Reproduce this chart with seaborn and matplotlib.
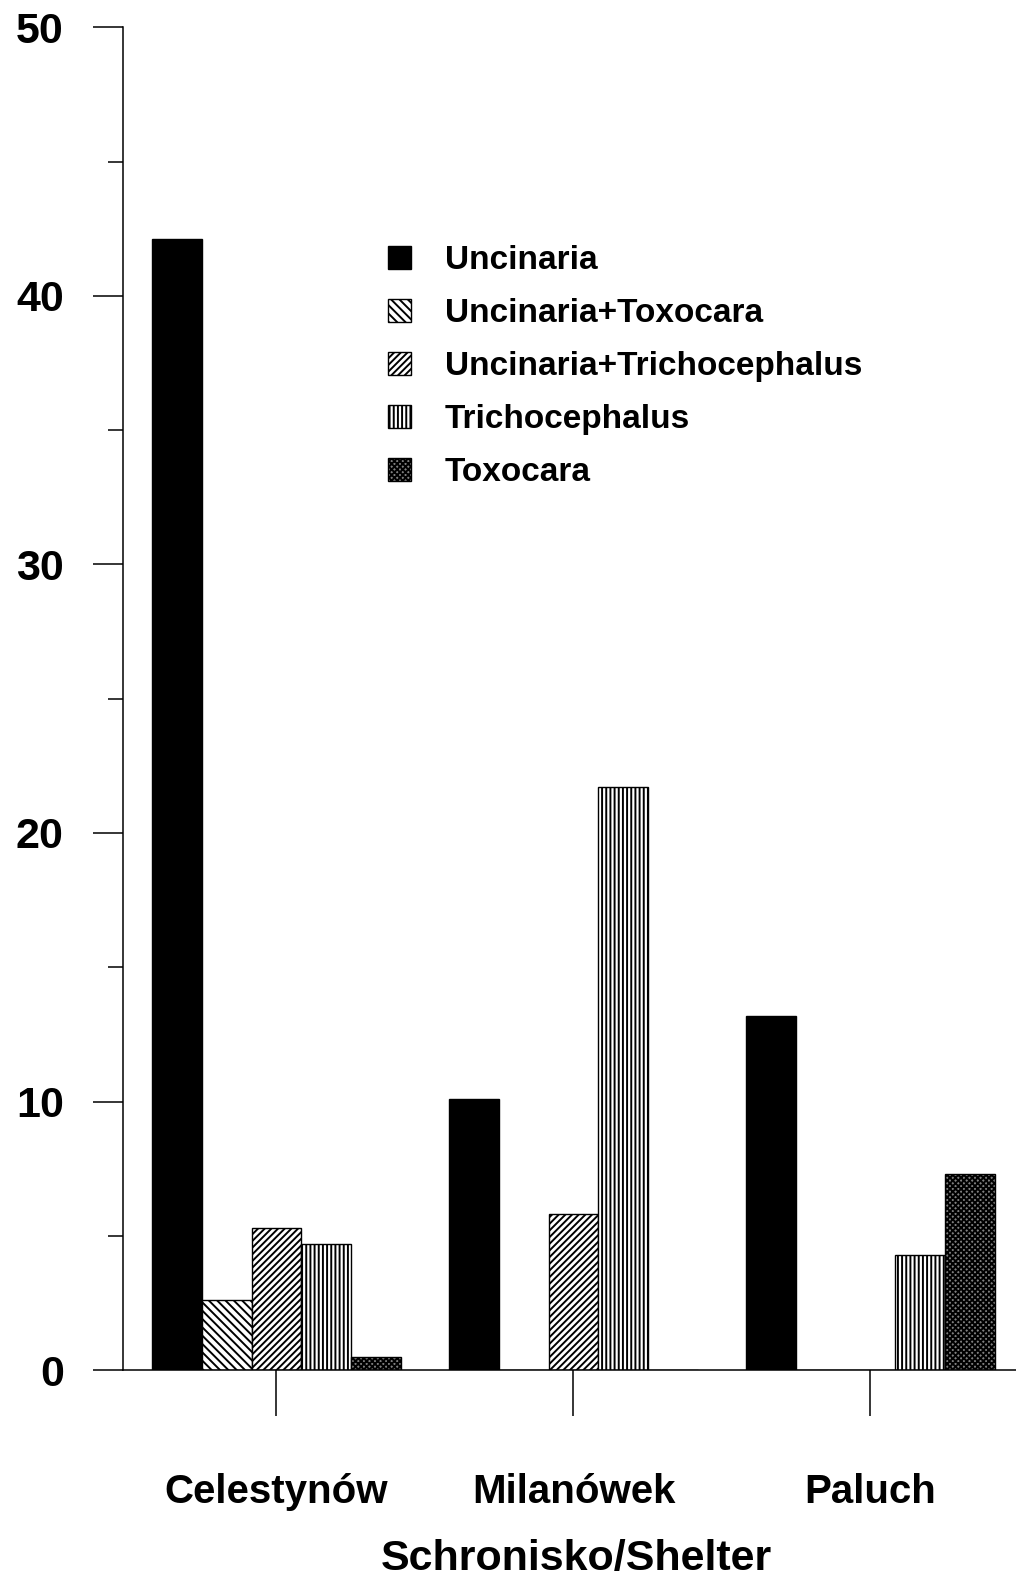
import seaborn as sns
import matplotlib.pyplot as plt
import matplotlib.patches as mpatches
import pandas as pd
from matplotlib.ticker import MultipleLocator

# values
shelters = ['Celestynów', 'Milanówek', 'Paluch']
parasites = ['Uncinaria', 'Uncinaria+Toxocara', 'Uncinaria+Trichocephalus',
             'Trichocephalus', 'Toxocara']
uncinaria = [42.1, 10.1, 13.2]
unc_toxo = [2.6, 0.0, 0.0]
unc_trich = [5.3, 5.8, 0.0]
trich = [4.7, 21.7, 4.3]
toxo = [0.5, 0.0, 7.3]

series = [uncinaria, unc_toxo, unc_trich, trich, toxo]
df = pd.DataFrame({
    'shelter': shelters * len(parasites),
    'parasite': [p for p in parasites for _ in shelters],
    'value': [v for s in series for v in s],
})

hatches = ['', '\\\\\\\\', '/////', '||||', 'xxxxxx']
faces = ['black', 'white', 'white', 'white', '#808080']

sns.set_style('white')
plt.rcParams['font.family'] = ['Liberation Sans', 'DejaVu Sans']
plt.rcParams['font.weight'] = 'bold'
plt.rcParams['text.color'] = 'black'
plt.rcParams['xtick.color'] = 'black'
plt.rcParams['ytick.color'] = 'black'
plt.rcParams['hatch.linewidth'] = 1.4

fig = plt.figure(figsize=(10.16, 15.83), dpi=100)
ax = fig.add_axes([0.121, 0.1345, 0.879, 0.8483])

sns.barplot(data=df, x='shelter', y='value', hue='parasite', order=shelters,
            hue_order=parasites, width=0.84, legend=False, ax=ax,
            edgecolor='black', linewidth=1.0, saturation=1)

for cont, h, fc in zip(ax.containers, hatches, faces):
    for bar in cont:
        bar.set_facecolor(fc)
        bar.set_hatch(h)
        bar.set_edgecolor('black')

ax.set_xlim(-0.517, 2.49)
ax.set_ylim(0, 50)
ax.yaxis.set_major_locator(MultipleLocator(10))
ax.yaxis.set_minor_locator(MultipleLocator(5))
ax.tick_params(axis='y', which='major', length=21.6, width=1.1, pad=21,
               labelsize=31, direction='out', left=True)
ax.tick_params(axis='y', which='minor', length=10.5, width=1.1, direction='out', left=True)
ax.tick_params(axis='x', which='major', length=33, width=1.1, pad=41,
               labelsize=29, direction='out', bottom=True)
for lab in ax.get_yticklabels() + ax.get_xticklabels():
    lab.set_fontweight('bold')
    lab.set_color('black')

for s in ['top', 'right']:
    ax.spines[s].set_visible(False)
for s in ['left', 'bottom']:
    ax.spines[s].set_linewidth(1.1)
    ax.spines[s].set_color('black')

ax.set_xlabel('Schronisko/Shelter', fontsize=31, fontweight='bold', color='black')
ax.xaxis.set_label_coords(0.508, -0.1255)
ax.set_ylabel('')

handles = [mpatches.Patch(facecolor=fc, edgecolor='black', hatch=h, label=p)
           for p, h, fc in zip(parasites, hatches, faces)]
ax.legend(handles=handles, loc='upper left', bbox_to_anchor=(0.278, 0.85),
          frameon=False, handlelength=0.7, handleheight=0.7,
          handletextpad=1.0, labelspacing=0.66, borderpad=0,
          prop={'weight': 'bold', 'size': 24})

fig.savefig('out.png', dpi=100)
